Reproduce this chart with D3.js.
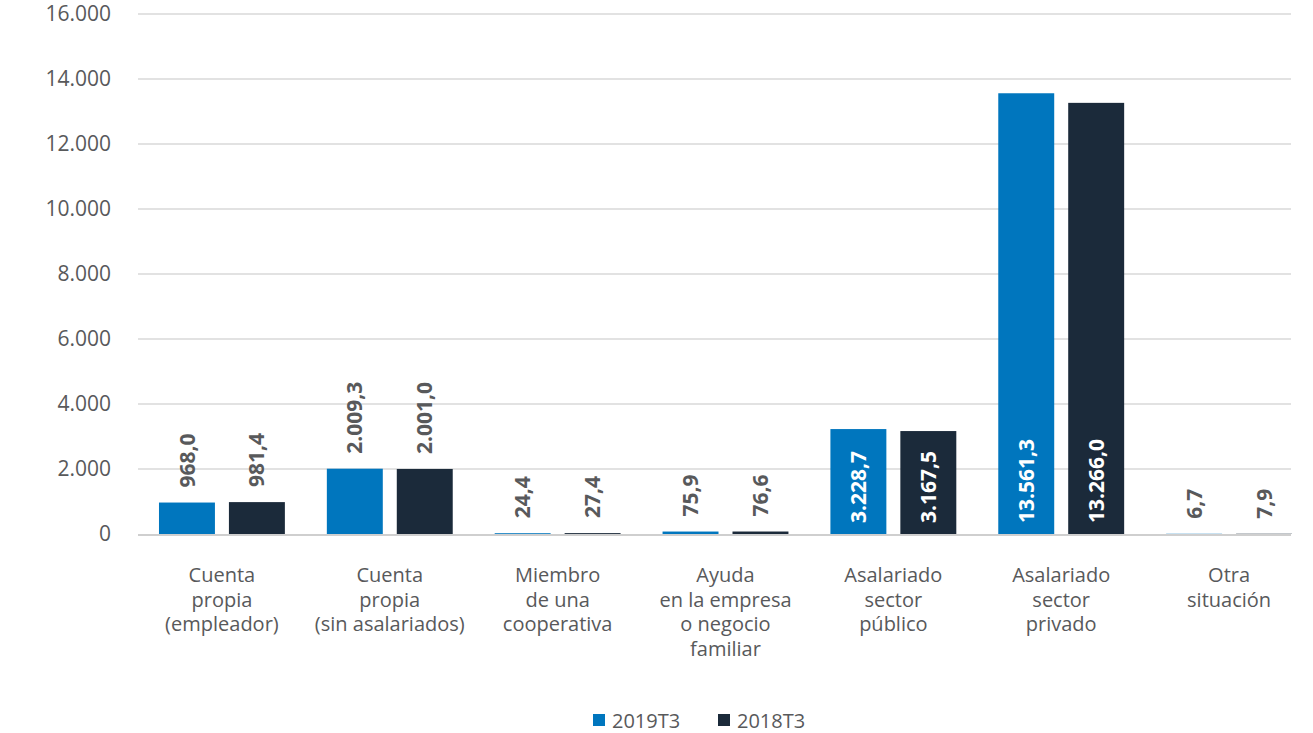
<!DOCTYPE html>
<html>
<head>
<meta charset="utf-8">
<script src="https://cdn.jsdelivr.net/npm/d3@7"></script>
<style>
  html, body { margin: 0; padding: 0; background: #fff; }
  svg { display: block; font-family: "Open Sans", sans-serif; }
</style>
</head>
<body>
<svg id="chart" width="1313" height="733"></svg>
<script>
const categories = [
  ["Cuenta", "propia", "(empleador)"],
  ["Cuenta", "propia", "(sin asalariados)"],
  ["Miembro", "de una", "cooperativa"],
  ["Ayuda", "en la empresa", "o negocio", "familiar"],
  ["Asalariado", "sector", "público"],
  ["Asalariado", "sector", "privado"],
  ["Otra", "situación"]
];
const seriesNames = ["2019T3", "2018T3"];
const values2019 = [968.0, 2009.3, 24.4, 75.9, 3228.7, 13561.3, 6.7];
const values2018 = [981.4, 2001.0, 27.4, 76.6, 3167.5, 13266.0, 7.9];
const yTicks = [0, 2000, 4000, 6000, 8000, 10000, 12000, 14000, 16000];
const colors = ["#0076be", "#1b2a3a"];

const svg = d3.select("#chart");
const catIdx = categories.map((d, i) => i);
const x = d3.scaleBand().domain(catIdx).range([138, 1313]).paddingInner(0).paddingOuter(0);
const xs = d3.scaleBand().domain(seriesNames).range([0, x.bandwidth()]).paddingInner(0.2).paddingOuter(0.3);
const y = d3.scaleLinear().domain([0, 16000]).range([534, 14]);

const fmt = v => {
  const s = v.toFixed(1);
  let [int, dec] = s.split(".");
  int = int.replace(/\B(?=(\d{3})+(?!\d))/g, ".");
  return int + "," + dec;
};
const fmtTick = v => String(v).replace(/\B(?=(\d{3})+(?!\d))/g, ".");

// gridlines
svg.append("g").selectAll("line").data(yTicks.filter(t => t > 0)).join("line")
  .attr("x1", 138).attr("x2", 1291)
  .attr("y1", d => y(d)).attr("y2", d => y(d))
  .attr("stroke", "#d9d9d9").attr("stroke-width", 1.3);

// y tick labels
svg.append("g").selectAll("text").data(yTicks).join("text")
  .attr("x", 111).attr("y", d => y(d)).attr("dy", "0.35em")
  .attr("text-anchor", "end")
  .attr("font-size", 21).attr("fill", "#58595b")
  .text(fmtTick);

const data = catIdx.map(i => [
  { s: seriesNames[0], v: values2019[i], c: colors[0], i },
  { s: seriesNames[1], v: values2018[i], c: colors[1], i }
]).flat();

// bars
svg.append("g").selectAll("rect").data(data).join("rect")
  .attr("x", d => x(d.i) + xs(d.s))
  .attr("width", xs.bandwidth())
  .attr("y", d => y(d.v))
  .attr("height", d => y(0) - y(d.v))
  .attr("fill", d => d.c);

// baseline
svg.append("line").attr("x1", 138).attr("x2", 1291)
  .attr("y1", y(0) + 1).attr("y2", y(0) + 1)
  .attr("stroke", "#cfcfcf").attr("stroke-width", 2);

// value labels
const inside = d => d.v > 3000;
svg.append("g").selectAll("text").data(data).join("text")
  .attr("transform", d => {
    const cx = x(d.i) + xs(d.s) + xs.bandwidth() / 2;
    const yy = inside(d) ? y(0) - 11 : y(d.v) - 15;
    return `translate(${cx},${yy}) rotate(-90)`;
  })
  .attr("dy", "0.36em")
  .attr("text-anchor", "start")
  .attr("font-size", 21).attr("font-weight", "bold")
  .attr("fill", d => inside(d) ? "#ffffff" : "#58595b")
  .text(d => fmt(d.v));

// category labels
const cl = svg.append("g").selectAll("text").data(catIdx).join("text")
  .attr("x", i => x(i) + x.bandwidth() / 2)
  .attr("y", 582)
  .attr("text-anchor", "middle")
  .attr("font-size", 20).attr("fill", "#58595b");
cl.selectAll("tspan").data(i => categories[i].map(t => ({ t, i }))).join("tspan")
  .attr("x", d => x(d.i) + x.bandwidth() / 2)
  .attr("dy", (d, k) => k === 0 ? 0 : 24.5)
  .text(d => d.t);

// legend
const legend = svg.append("g");
const legX = [593, 718];
seriesNames.forEach((s, k) => {
  legend.append("rect").attr("x", legX[k]).attr("y", 714).attr("width", 12).attr("height", 12).attr("fill", colors[k]);
  legend.append("text").attr("x", legX[k] + 19).attr("y", 728)
    .attr("font-size", 20).attr("fill", "#58595b").text(s);
});
</script>
</body>
</html>
